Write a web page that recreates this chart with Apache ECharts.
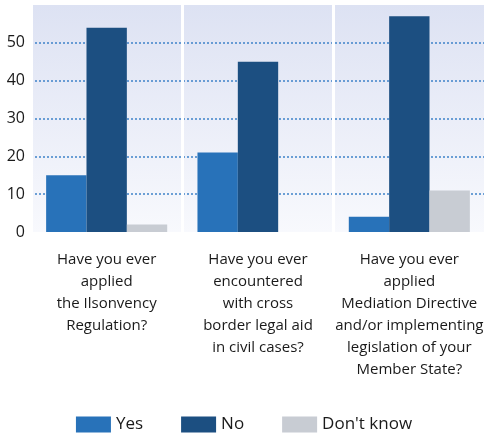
<!DOCTYPE html>
<html><head><meta charset="utf-8">
<script src="https://cdn.jsdelivr.net/npm/echarts@6/dist/echarts.min.js"></script>
<style>html,body{margin:0;padding:0;background:#fff}#c{width:488px;height:440px}</style>
</head><body><div id="c"></div>
<script>
const categories = [
  "Have you ever\napplied\nthe Ilsonvency\nRegulation?",
  "Have you ever\nencountered\nwith cross\nborder legal aid\nin civil cases?",
  "Have you ever\napplied\nMediation Directive\nand/or implementing\nlegislation of your\nMember State?"
];
const yesValues = [15, 21, 4];
const noValues = [54, 45, 57];
const dontKnowValues = [2, 0, 11];
const yTicks = [0, 10, 20, 30, 40, 50];

const chart = echarts.init(document.getElementById('c'));
const font = "'Open Sans', sans-serif";
chart.setOption({
  animation: false,
  grid: {
    left: 31, right: 3, top: 5, bottom: 208,
    show: true, borderWidth: 0,
    backgroundColor: {type: 'linear', x: 0, y: 0, x2: 0, y2: 1,
      colorStops: [{offset: 0, color: '#dde2f3'}, {offset: 1, color: '#f8f9fd'}]}
  },
  legend: {
    bottom: 2, left: 'center', itemWidth: 35, itemHeight: 16, itemGap: 38,
    icon: 'rect',
    textStyle: {fontFamily: font, fontSize: 17, color: '#1a1a1a'},
    data: ['Yes', 'No', "Don't know"]
  },
  xAxis: {
    type: 'category', data: categories,
    axisLine: {show: false}, axisTick: {show: false},
    splitLine: {show: true, lineStyle: {color: '#ffffff', width: 3}},
    axisLabel: {interval: 0, margin: 17, fontFamily: font, fontSize: 15, lineHeight: 22, color: '#1a1a1a'}
  },
  yAxis: {
    type: 'value', min: 0, max: 60, interval: 10,
    axisLine: {show: false}, axisTick: {show: false},
    axisLabel: {margin: 6, fontFamily: font, fontSize: 16, color: '#1a1a1a',
      formatter: v => yTicks.includes(v) ? String(v) : ''},
    splitLine: {show: true, lineStyle: {type: [2, 2], width: 1.5,
      color: ['rgba(0,0,0,0)', '#3f82c9', '#3f82c9', '#3f82c9', '#3f82c9', '#3f82c9', 'rgba(0,0,0,0)']}}
  },
  series: [
    {name: 'Yes', type: 'bar', data: yesValues, itemStyle: {color: '#2872b9'}, barGap: '0%', barCategoryGap: '20%'},
    {name: 'No', type: 'bar', data: noValues, itemStyle: {color: '#1c4f81'}},
    {name: "Don't know", type: 'bar', data: dontKnowValues, itemStyle: {color: '#c8ccd3'}}
  ]
});
</script></body></html>
